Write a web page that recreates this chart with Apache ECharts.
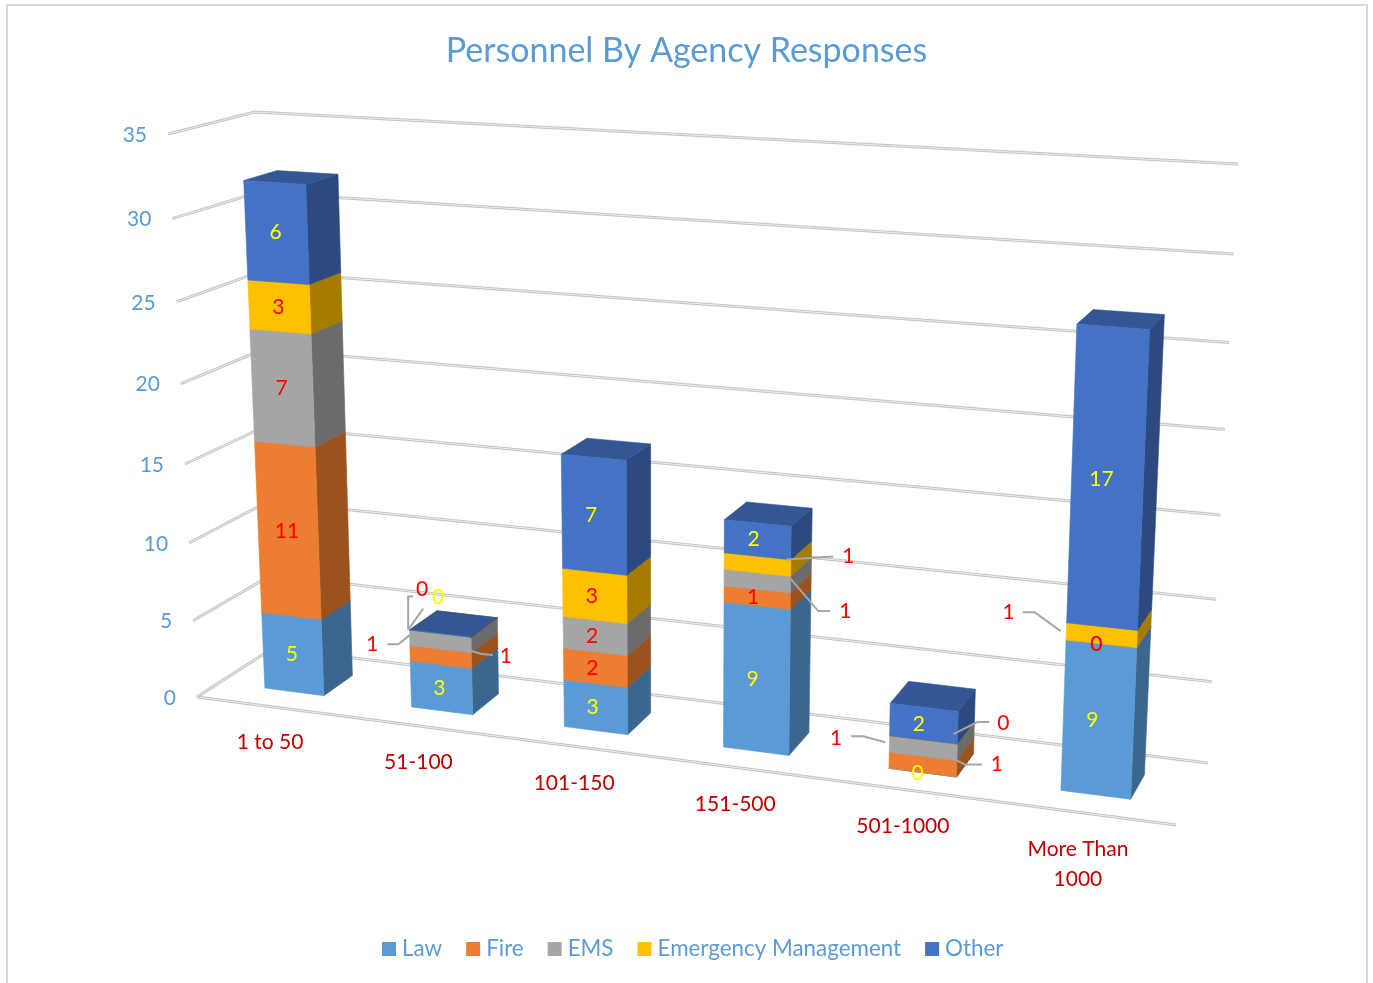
<!DOCTYPE html>
<html><head><meta charset="utf-8">
<style>html,body{margin:0;padding:0;background:#fff}#c{width:1373px;height:983px}</style>
<script src="https://cdn.jsdelivr.net/npm/echarts@6/dist/echarts.min.js"></script>
</head><body><div id="c"></div>
<script>
// ---- data ----
const categories = ['1 to 50','51-100','101-150','151-500','501-1000','More Than\n1000'];
const law       = [5,3,3,9,0,9];
const fire      = [11,1,2,1,1,0];
const ems       = [7,1,2,1,1,0];
const emergency = [3,0,3,1,0,1];
const other     = [6,0,7,2,2,17];
const seriesNames = ['Law','Fire','EMS','Emergency Management','Other'];
const yTicks = [0,5,10,15,20,25,30,35];

// ---- styles ----
const columns = [law,fire,ems,emergency,other];
const front = ['#5b9bd5','#ed7d31','#a5a5a5','#ffc000','#4472c4'];
const side  = ['#3b678f','#9a521f','#6b6b6b','#a67c00','#2c4a80'];
const topc  = ['#4474a0','#b25e25','#7c7c7c','#bf9000','#335694'];
const labelColor = ['#ffff00','#ff0000','#ff0000','#ff0000','#ffff00'];
const FONT = 'Lato, Carlito, sans-serif';

// ---- oblique view of the plot box (frame corners on screen) ----
const corners = {
  f0l:[197,697], f0r:[1176,825], b0l:[273,648], b0r:[1208,763],
  fTl:[168,134], fTr:[1203,194], bTl:[255,112], bTr:[1238,164]
};
const lerp = (a,b,t)=>[a[0]+(b[0]-a[0])*t, a[1]+(b[1]-a[1])*t];
function view(u,t,v){
  const U = .9*u+.1*u*u, T = .94*t+.06*t*t;
  const f = lerp(lerp(corners.f0l,corners.f0r,U), lerp(corners.fTl,corners.fTr,U), T);
  const b = lerp(lerp(corners.b0l,corners.b0r,U), lerp(corners.bTl,corners.bTr,U), T);
  return lerp(f,b,v);
}
// fine correction of the across-axis foreshortening inside the plot
const inner = u => u + .0033 - .0229*u + .0187*u*u;
// library's scales -> normalised box coordinates -> view
function toBox(params,api,cat,val){
  const cs = params.coordSys, p = api.coord([cat,val]);
  return [(p[0]-cs.x)/cs.width, (cs.y+cs.height-p[1])/cs.height];
}
const V0=.3, V1=.7, BAR=.40;

function poly(points,fill){
  return {type:'polygon',shape:{points},style:{fill,stroke:fill,lineWidth:.6}};
}
function barItem(s){
  return function(params,api){
    const cat=api.value(0), a=api.value(1), b=api.value(2);
    const cs=params.coordSys, hw=api.size([1,0])[0]/cs.width*BAR/2;
    const [uc0,t0]=toBox(params,api,cat,a), [,t1]=toBox(params,api,cat,b);
    const uc=inner(uc0), ul=uc-hw, ur=uc+hw;
    return {type:'group',children:[
      poly([view(ur,t0,V0),view(ur,t0,V1),view(ur,t1,V1),view(ur,t1,V0)],side[s]),
      poly([view(ul,t1,V0),view(ur,t1,V0),view(ur,t1,V1),view(ul,t1,V1)],topc[s]),
      poly([view(ul,t0,V0),view(ur,t0,V0),view(ur,t1,V0),view(ul,t1,V0)],front[s])
    ]};
  };
}
const rows = columns.map(()=>[]);
categories.forEach((c,i)=>{ let sum=0; columns.forEach((col,s)=>{ rows[s].push([i,sum,sum+col[i],col[i]]); sum+=col[i]; }); });

// label placement: default shift per category; nudges relative to front-face centre; leader points relative to the label
const labelShiftX = [-1,-2,-3,-4,-5,-6];
const catLabelShiftX = [6,2,0,-2,-3,-2];
const nudges = {
 '1,1':[65,-1], '1,2':[-68,3], '1,3':[-18,-44], '1,4':[-2,-36],
 '3,2':[88,30], '3,3':[91,-8],
 '4,0':[-5,1], '4,1':[74,0], '4,2':[-87,-10], '4,3':[80,-17],
 '5,1':[-5,1], '5,2':[-5,1], '5,3':[-93,-23]
};
const leaders = {
 '1,1':[[-13,-1],[-24,-2],[-35,-5]],
 '1,2':[[15,0],[26,0],[37,-9]],
 '1,3':[[-9,7],[-14,7],[-14,40]],
 '1,4':[[-15,11],[-30,32]],
 '3,2':[[-15,0],[-27,0],[-56,-34]],
 '3,3':[[-15,0],[-62,3]],
 '4,1':[[-15,0],[-32,0],[-42,-5]],
 '4,2':[[15,-2],[27,-2],[49,4]],
 '4,3':[[-14,-1],[-26,-1],[-50,11]],
 '5,3':[[14,0],[26,0],[52,19]]
};

const gridSeries = {
  type:'custom', name:'frame', z:1, silent:true, data:yTicks.map(v=>[0,v]),
  renderItem(params,api){
    const v=api.value(1);
    const [,t]=toBox(params,api,0,v);
    const pts=[view(0,t,0),view(0,t,1),view(1,t,1)];
    const kids=[
      {type:'polyline',shape:{points:pts},style:{stroke:'#c4c4c4',lineWidth:3,fill:null}},
      {type:'polyline',shape:{points:pts},style:{stroke:'#ececec',lineWidth:1,fill:null}}
    ];
    if(v===0){
      const e=[view(0,t,0),view(1,t,0)];
      kids.push({type:'polyline',shape:{points:e},style:{stroke:'#c4c4c4',lineWidth:3,fill:null}},
                {type:'polyline',shape:{points:e},style:{stroke:'#ececec',lineWidth:1,fill:null}});
    }
    const l=view(0,t,0);
    kids.push({type:'text',style:{text:String(v),x:l[0]-21,y:l[1]+1,fill:'#5b9bd5',font:'21px '+FONT,align:'right',verticalAlign:'middle'}});
    return {type:'group',children:kids};
  }
};
const catSeries = {
  type:'custom', name:'categories', z:2, silent:true, data:categories.map((c,i)=>[i,0]),
  renderItem(params,api){
    const i=api.value(0);
    const [u,t]=toBox(params,api,i,0);
    const p=view(u,t,0);
    return {type:'text',style:{text:categories[i],x:p[0]-7+catLabelShiftX[i],y:p[1]+21,fill:'#c00000',font:'21px '+FONT,align:'center',verticalAlign:'top',lineHeight:30}};
  }
};
const labelRows=[]; rows.forEach((r,s)=>r.forEach(d=>labelRows.push([d[0],(d[1]+d[2])/2,s,d[3]])));
const labelSeries = {
  type:'custom', name:'labels', z:10, silent:true, data:labelRows,
  renderItem(params,api){
    const c=api.value(0), mid=api.value(1), s=api.value(2), val=api.value(3);
    const [u,t]=toBox(params,api,c,mid);
    const p=view(inner(u),t,V0), key=c+','+s, n=nudges[key]||[labelShiftX[c],0];
    const x=p[0]+n[0], y=p[1]+n[1], kids=[];
    if(leaders[key]) kids.push({type:'polyline',shape:{points:leaders[key].map(q=>[x+q[0],y+q[1]])},style:{stroke:'#a6a6a6',lineWidth:2,fill:null}});
    kids.push({type:'text',style:{text:String(val),x,y,fill:labelColor[s],font:'21px '+FONT,align:'center',verticalAlign:'middle'}});
    return {type:'group',children:kids};
  }
};
const barSeries = seriesNames.map((name,s)=>({
  type:'custom', name, z:5, itemStyle:{color:front[s]}, data:rows[s], renderItem:barItem(s), encode:{x:0,y:[1,2]}
}));

const chart = echarts.init(document.getElementById('c'),null,{renderer:'canvas'});
chart.setOption({
  animation:false,
  backgroundColor:'#fff',
  title:{text:'Personnel By Agency Responses',left:'center',top:29,textStyle:{color:'#5b9bd5',fontFamily:FONT,fontWeight:'normal',fontSize:34}},
  legend:{data:seriesNames,top:933,left:377,icon:'rect',itemWidth:14,itemHeight:14,itemGap:24,selectedMode:false,
    textStyle:{color:'#5b9bd5',fontFamily:FONT,fontSize:22.4,padding:[0,0,0,1]}},
  graphic:[{type:'rect',shape:{x:7,y:5,width:1360,height:1000},style:{fill:null,stroke:'#d9d9d9',lineWidth:2},silent:true,z:-1}],
  grid:{left:100,right:100,top:100,bottom:100,show:false},
  xAxis:{type:'category',data:categories,show:false},
  yAxis:{type:'value',min:0,max:35,interval:5,show:false},
  series:[gridSeries,catSeries,...barSeries,labelSeries]
});
</script></body></html>
